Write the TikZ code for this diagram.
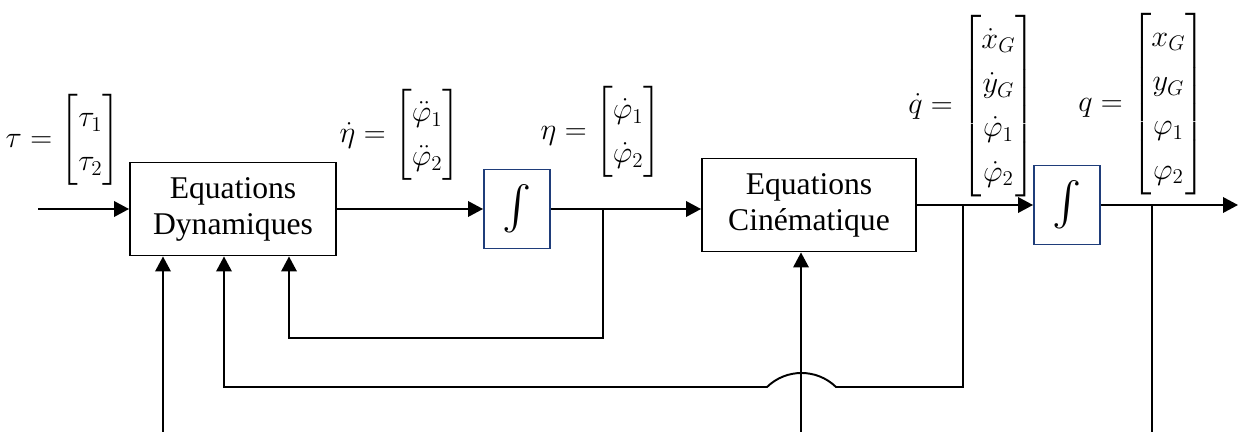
\documentclass[tikz,border=0pt]{standalone}
\usepackage{amsmath}
\usepackage{fontspec}
\setmainfont{Liberation Serif}
\usetikzlibrary{arrows.meta}
\definecolor{intblue}{HTML}{1F3D7A}
\renewcommand{\arraystretch}{1.2}

\begin{document}
\begin{tikzpicture}[
    x=0.02cm, y=-0.02cm,
    block/.style={draw, line width=1.1pt, align=center, minimum width=4.12cm, minimum height=1.86cm, font=\fontsize{18}{20.5}\selectfont},
    integ/.style={draw=intblue, line width=1.1pt, minimum width=1.32cm, minimum height=1.58cm, font=\fontsize{23}{26}\selectfont},
    lbl/.style={font=\fontsize{18}{21}\selectfont, inner sep=0pt},
    arrow/.style={-{Triangle[length=0.3cm, width=0.31cm]}, line width=1.1pt},
    wire/.style={line width=1.1pt}
]
\useasboundingbox (0,0) rectangle (1239,432);

% blocs
\node[block] (dyn) at (233,209) {Equations\\Dynamiques};
\node[integ] (int1) at (517,209) {$\int$};
\node[block, minimum width=4.28cm] (cin) at (809,205) {Equations\\Cinématique};
\node[integ] (int2) at (1067,205) {$\int$};

% vecteurs
\node[lbl] (tauv) at (63,140) {$\tau=\begin{bmatrix}\tau_1\\ \tau_2\end{bmatrix}$};
\node[lbl] (etadot) at (400,135) {$\dot\eta=\begin{bmatrix}\ddot\varphi_1\\ \ddot\varphi_2\end{bmatrix}$};
\node[lbl] (eta) at (601,132) {$\eta=\begin{bmatrix}\dot\varphi_1\\ \dot\varphi_2\end{bmatrix}$};
\node[lbl] (qdot) at (972,106) {$\dot q=\begin{bmatrix}\dot x_G\\ \dot y_G\\ \dot\varphi_1\\ \dot\varphi_2\end{bmatrix}$};
\node[lbl] (q) at (1142,104) {$q=\begin{bmatrix}x_G\\ y_G\\ \varphi_1\\ \varphi_2\end{bmatrix}$};

% points
\coordinate (in) at (38,209);
\coordinate (b1) at (603,209);
\coordinate (b2) at (963,205);
\coordinate (b3) at (1152,205);
\coordinate (out) at (1238,205);
\coordinate (f1) at (289,338);
\coordinate (j1) at (836,387);
\coordinate (j2) at (767,387);
\coordinate (f2) at (224,387);
\coordinate (u1) at (163,432);
\coordinate (u2) at (801,432);
\coordinate (u3) at (1152,432);

% liaisons
\draw[arrow] (in) -- (dyn);
\draw[arrow] (dyn) -- (int1);
\draw[arrow] (int1) -- (int1 -| cin.west);
\draw[arrow] (cin) -- (int2);
\draw[arrow] (int2) -- (out);
\draw[arrow] (b1) |- (f1) -- (f1 |- dyn.south);
\draw[arrow] (b2) |- (j1) .. controls (816.8,368.3) and (786.2,368.3) .. (j2) -- (f2) -- (f2 |- dyn.south);
\draw[arrow] (u1) -- (u1 |- dyn.south);
\draw[arrow] (u2) -- (u2 |- cin.south);
\draw[wire] (b3) -- (u3);
\end{tikzpicture}
\end{document}
